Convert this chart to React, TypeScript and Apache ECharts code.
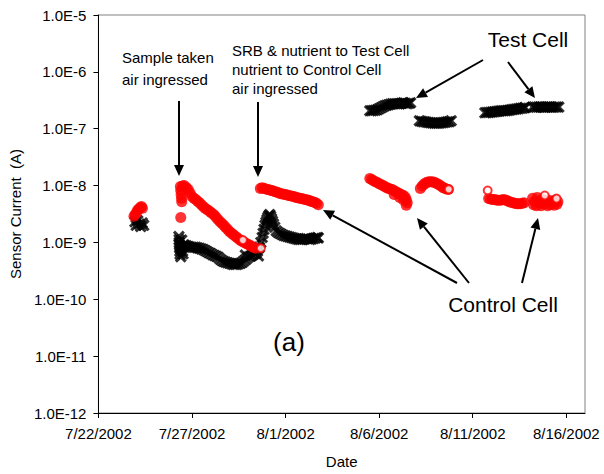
import React, { useEffect, useRef } from "react";
import * as echarts from "echarts";

// x values are days since 7/22/2002
const START_UTC = Date.UTC(2002, 6, 22);
const xTickDays = [0, 5, 10, 15, 20, 25];
const yTickValues = [1e-12, 1e-11, 1e-10, 1e-9, 1e-8, 1e-7, 1e-6, 1e-5];

// Control Cell (red)
const control1 = [[1.9, 2.9e-9], [1.97, 3.1e-9], [2.04, 3.4e-9], [2.1, 3.7e-9], [2.17, 3.9e-9], [2.24, 4.1e-9], [2.3, 4.3e-9], [2.35, 4.0e-9]];
const control2 = [
  [4.38, 9.6e-9], [4.4, 8.2e-9], [4.42, 7.0e-9], [4.44, 6.0e-9], [4.45, 5.2e-9], [4.5, 9.8e-9], [4.58, 1.0e-8], [4.4, 2.75e-9],
  [4.7, 9.2e-9], [4.8, 8.5e-9], [4.9, 7.4e-9], [5.0, 6.4e-9], [5.1, 6.0e-9], [5.2, 5.7e-9], [5.3, 5.3e-9], [5.4, 5.0e-9],
  [5.5, 4.6e-9], [5.6, 4.3e-9], [5.7, 4.0e-9], [5.8, 3.8e-9], [5.9, 3.6e-9], [6.0, 3.4e-9], [6.1, 3.2e-9], [6.2, 3.0e-9],
  [6.3, 2.75e-9], [6.4, 2.5e-9], [6.5, 2.3e-9], [6.6, 2.15e-9], [6.7, 2.0e-9], [6.8, 1.83e-9], [6.9, 1.7e-9], [7.0, 1.56e-9],
  [7.1, 1.47e-9], [7.2, 1.38e-9], [7.3, 1.3e-9], [7.4, 1.22e-9], [7.5, 1.15e-9], [7.6, 1.08e-9], [7.7, 1.04e-9], [7.8, 1.0e-9],
  [7.9, 9.6e-10], [8.0, 9.2e-10], [8.1, 8.9e-10], [8.2, 8.5e-10], [8.3, 8.2e-10], [8.4, 7.9e-10],
];
const control3 = [
  [8.65, 8.9e-9], [8.75, 9.2e-9], [8.85, 8.9e-9], [8.95, 8.7e-9], [9.05, 8.5e-9], [9.15, 8.4e-9], [9.25, 8.2e-9], [9.35, 8.0e-9],
  [9.45, 7.8e-9], [9.55, 7.6e-9], [9.65, 7.4e-9], [9.75, 7.2e-9], [9.85, 7.1e-9], [9.95, 7.0e-9], [10.05, 6.9e-9], [10.15, 6.7e-9],
  [10.25, 6.6e-9], [10.35, 6.5e-9], [10.45, 6.4e-9], [10.55, 6.2e-9], [10.65, 6.1e-9], [10.75, 6.0e-9], [10.85, 5.9e-9],
  [10.95, 5.8e-9], [11.05, 5.7e-9], [11.15, 5.6e-9], [11.25, 5.5e-9], [11.35, 5.3e-9], [11.45, 5.2e-9], [11.55, 5.1e-9],
  [11.65, 4.9e-9], [11.75, 4.6e-9],
];
const control4 = [
  [14.5, 1.33e-8], [14.6, 1.28e-8], [14.7, 1.22e-8], [14.8, 1.17e-8], [14.9, 1.13e-8], [15.0, 1.08e-8], [15.1, 1.04e-8],
  [15.2, 1.0e-8], [15.3, 9.6e-9], [15.4, 9.2e-9], [15.5, 8.9e-9], [15.6, 8.7e-9], [15.7, 8.5e-9], [15.8, 8.1e-9], [15.9, 7.8e-9],
  [16.0, 7.5e-9], [16.1, 7.2e-9], [16.2, 6.9e-9], [16.3, 6.7e-9], [16.4, 6.2e-9], [16.45, 5.6e-9], [16.5, 5.0e-9],
  [16.45, 4.5e-9], [16.3, 5.6e-9], [16.1, 6.2e-9], [15.8, 7.0e-9],
];
const control5 = [
  [17.2, 8.9e-9], [17.3, 9.8e-9], [17.4, 1.06e-8], [17.5, 1.12e-8], [17.6, 1.15e-8], [17.7, 1.17e-8], [17.8, 1.17e-8],
  [17.9, 1.15e-8], [18.0, 1.12e-8], [18.1, 1.08e-8], [18.2, 1.03e-8], [18.3, 9.8e-9], [18.4, 9.3e-9], [18.5, 9.0e-9],
  [18.6, 8.7e-9], [18.7, 8.5e-9],
];
const control6 = [
  [20.85, 5.9e-9], [20.95, 5.8e-9], [21.05, 5.7e-9], [21.15, 5.7e-9], [21.25, 5.6e-9], [21.35, 5.5e-9], [21.45, 5.5e-9],
  [21.55, 5.6e-9], [21.65, 5.7e-9], [21.75, 5.6e-9], [21.85, 5.4e-9], [21.95, 5.2e-9], [22.05, 5.1e-9], [22.15, 5.0e-9],
  [22.25, 4.9e-9], [22.35, 4.8e-9], [22.45, 4.8e-9], [22.55, 4.8e-9], [22.65, 4.9e-9], [22.75, 5.0e-9],
];
const control7 = [
  [23.2, 6.0e-9], [23.25, 4.6e-9], [23.3, 5.3e-9], [23.4, 4.4e-9], [23.45, 6.2e-9], [23.55, 5.0e-9], [23.65, 4.4e-9],
  [23.7, 5.8e-9], [23.8, 4.7e-9], [23.9, 5.4e-9], [24.0, 4.4e-9], [24.05, 5.6e-9], [24.15, 4.6e-9], [24.25, 5.2e-9],
  [24.35, 4.5e-9], [24.4, 5.6e-9], [24.5, 4.7e-9], [24.55, 5.2e-9],
];
const controlOutliers = [[7.72, 1.1e-9], [8.68, 7.9e-10], [18.72, 8.6e-9], [20.8, 8.2e-9], [23.85, 6.7e-9], [24.48, 5.9e-9]];

// Test Cell (black)
const test1 = [[1.95, 2.3e-9], [2.02, 2.0e-9], [2.1, 2.4e-9], [2.18, 2.1e-9], [2.26, 1.9e-9], [2.34, 2.2e-9], [2.42, 2.0e-9]];
const test2 = [
  [4.3, 1.27e-9], [4.31, 1.12e-9], [4.32, 1.0e-9], [4.33, 9.0e-10], [4.34, 8.0e-10], [4.35, 7.0e-10], [4.36, 6.2e-10],
  [4.4, 5.6e-10], [4.45, 1.1e-9], [4.48, 8.5e-10], [4.5, 7.0e-10], [4.52, 6.3e-10], [4.55, 9.0e-10],
  [4.6, 8.9e-10], [4.7, 8.7e-10], [4.8, 8.5e-10], [4.9, 8.3e-10], [5.0, 8.2e-10], [5.1, 8.2e-10], [5.2, 8.2e-10], [5.3, 8.0e-10],
  [5.4, 7.9e-10], [5.5, 7.7e-10], [5.6, 7.5e-10], [5.7, 7.2e-10], [5.8, 6.9e-10], [5.9, 6.6e-10], [6.0, 6.4e-10], [6.1, 6.1e-10],
  [6.2, 5.9e-10], [6.3, 5.7e-10], [6.4, 5.5e-10], [6.5, 5.1e-10], [6.6, 4.8e-10], [6.7, 4.6e-10], [6.8, 4.5e-10], [6.9, 4.4e-10],
  [7.0, 4.3e-10], [7.1, 4.2e-10], [7.2, 4.1e-10], [7.3, 4.1e-10], [7.4, 4.1e-10], [7.5, 4.2e-10], [7.6, 4.3e-10], [7.7, 4.5e-10],
  [7.8, 4.8e-10], [7.85, 6.0e-10], [7.9, 5.1e-10], [8.0, 5.5e-10], [8.1, 5.7e-10], [8.2, 5.9e-10], [8.3, 6.2e-10], [8.4, 6.4e-10],
  [8.5, 7.0e-10], [8.55, 5.8e-10],
  [8.6, 8.2e-10], [8.68, 1.0e-9], [8.75, 1.22e-9], [8.8, 1.45e-9], [8.85, 1.7e-9], [8.9, 2.0e-9], [8.95, 2.25e-9], [9.0, 2.5e-9],
  [9.05, 2.75e-9], [9.1, 2.95e-9], [9.15, 3.1e-9], [9.2, 2.9e-9], [9.25, 2.6e-9], [9.3, 2.35e-9], [9.35, 2.1e-9], [9.42, 1.85e-9],
  [9.5, 1.6e-9], [9.6, 1.5e-9], [9.7, 1.44e-9], [9.8, 1.38e-9], [9.9, 1.33e-9], [10.0, 1.3e-9], [10.1, 1.27e-9], [10.2, 1.25e-9],
  [10.3, 1.22e-9], [10.4, 1.2e-9], [10.5, 1.17e-9], [10.6, 1.15e-9], [10.7, 1.13e-9], [10.8, 1.13e-9], [10.9, 1.13e-9],
  [11.0, 1.15e-9], [11.1, 1.17e-9], [11.2, 1.15e-9], [11.3, 1.13e-9], [11.4, 1.15e-9], [11.5, 1.17e-9], [11.6, 1.2e-9],
  [11.7, 1.22e-9], [11.75, 1.2e-9],
];
const test3 = [
  [14.5, 2.07e-7], [14.6, 2.07e-7], [14.7, 2.1e-7], [14.8, 2.12e-7], [14.9, 2.15e-7], [15.0, 2.25e-7], [15.1, 2.33e-7],
  [15.2, 2.43e-7], [15.3, 2.53e-7], [15.4, 2.58e-7], [15.5, 2.63e-7], [15.6, 2.7e-7], [15.7, 2.75e-7], [15.8, 2.75e-7],
  [15.9, 2.75e-7], [16.0, 2.75e-7], [16.1, 2.75e-7], [16.2, 2.8e-7], [16.3, 2.86e-7], [16.4, 2.8e-7], [16.5, 2.75e-7],
  [16.6, 2.8e-7], [16.68, 2.86e-7],
];
const test4 = [
  [17.15, 1.38e-7], [17.25, 1.35e-7], [17.35, 1.33e-7], [17.45, 1.32e-7], [17.55, 1.3e-7], [17.65, 1.28e-7], [17.75, 1.27e-7],
  [17.85, 1.26e-7], [17.95, 1.25e-7], [18.05, 1.25e-7], [18.15, 1.25e-7], [18.25, 1.26e-7], [18.35, 1.27e-7], [18.45, 1.28e-7],
  [18.55, 1.3e-7], [18.65, 1.32e-7], [18.75, 1.33e-7], [18.85, 1.38e-7],
];
const test5 = [
  [20.65, 1.9e-7], [20.75, 1.92e-7], [20.85, 1.93e-7], [20.95, 1.95e-7], [21.05, 1.97e-7], [21.15, 1.98e-7], [21.25, 2.0e-7],
  [21.35, 2.02e-7], [21.45, 2.05e-7], [21.55, 2.06e-7], [21.65, 2.07e-7], [21.75, 2.08e-7], [21.85, 2.1e-7], [21.95, 2.12e-7],
  [22.05, 2.15e-7], [22.15, 2.18e-7], [22.25, 2.2e-7], [22.35, 2.22e-7], [22.45, 2.25e-7], [22.55, 2.28e-7], [22.65, 2.3e-7],
  [22.75, 2.33e-7], [22.8, 2.35e-7],
];
const test6 = [
  [23.2, 2.4e-7], [23.3, 2.4e-7], [23.4, 2.38e-7], [23.5, 2.4e-7], [23.6, 2.42e-7], [23.7, 2.4e-7], [23.8, 2.38e-7],
  [23.9, 2.4e-7], [24.0, 2.4e-7], [24.1, 2.42e-7], [24.2, 2.4e-7], [24.3, 2.38e-7], [24.4, 2.4e-7], [24.5, 2.4e-7], [24.6, 2.4e-7],
];

const controlData = [...control1, ...control2, ...control3, ...control4, ...control5, ...control6, ...control7];
const testData = [...test1, ...test2, ...test3, ...test4, ...test5, ...test6];

const FONT = "'Liberation Sans', Arial, sans-serif";
const X_SYMBOL = "path://M0,1.8L1.8,0L5,3.2L8.2,0L10,1.8L6.8,5L10,8.2L8.2,10L5,6.8L1.8,10L0,8.2L3.2,5Z";

function fmtDate(v: number) {
  const d = new Date(START_UTC + Math.round(v) * 86400000);
  return `${d.getUTCMonth() + 1}/${d.getUTCDate()}/${d.getUTCFullYear()}`;
}

function arrow(x1: number, y1: number, x2: number, y2: number) {
  const dx = x2 - x1, dy = y2 - y1;
  const len = Math.sqrt(dx * dx + dy * dy);
  const ux = dx / len, uy = dy / len;
  const hl = 11, hw = 5;
  const bx = x2 - ux * hl, by = y2 - uy * hl;
  const nx = -uy, ny = ux;
  return [
    { type: "line", shape: { x1, y1, x2: bx, y2: by }, style: { stroke: "#000", lineWidth: 2 }, silent: true },
    {
      type: "polygon",
      shape: { points: [[x2, y2], [bx + nx * hw, by + ny * hw], [bx - nx * hw, by - ny * hw]] },
      style: { fill: "#000" },
      silent: true,
    },
  ];
}

function label(text: string, x: number, y: number, size: number, align = "left", lineHeight?: number) {
  return {
    type: "text",
    x,
    y,
    style: {
      text,
      fill: "#000",
      fontSize: size,
      fontFamily: FONT,
      align,
      verticalAlign: "top",
      lineHeight: lineHeight || Math.round(size * 1.2),
    },
    silent: true,
  };
}

export default function App() {
  const ref = useRef<HTMLDivElement>(null);
  useEffect(() => {
    if (!ref.current) return;
    const chart = echarts.init(ref.current, undefined, { renderer: "svg" });
    chart.setOption({
      animation: false,
      backgroundColor: "#fff",
      textStyle: { fontFamily: FONT },
      grid: { left: 95, right: 19, top: 15, bottom: 60, show: true, borderColor: "#808080", borderWidth: 1, backgroundColor: "transparent" },
      xAxis: {
        type: "value",
        min: 0,
        max: 26,
        interval: 5,
        name: "Date",
        nameLocation: "middle",
        nameGap: 41,
        nameTextStyle: { color: "#000", fontSize: 15, fontFamily: FONT },
        axisLine: { onZero: false, lineStyle: { color: "#000", width: 1 } },
        axisTick: { show: true, length: 5, inside: false, lineStyle: { color: "#000" }, customValues: xTickDays },
        axisLabel: { color: "#000", fontSize: 15, fontFamily: FONT, margin: 13, formatter: (v: number) => fmtDate(v), customValues: xTickDays },
        splitLine: { show: false },
      },
      yAxis: {
        type: "log",
        logBase: 10,
        min: 1e-12,
        max: 1e-5,
        splitNumber: 7,
        name: "Sensor Current  (A)",
        nameLocation: "middle",
        nameGap: 64,
        nameTextStyle: { color: "#000", fontSize: 15, fontFamily: FONT },
        axisLine: { show: true, lineStyle: { color: "#000", width: 1 } },
        axisTick: { show: true, length: 5, inside: false, lineStyle: { color: "#000" }, customValues: yTickValues },
        axisLabel: {
          color: "#000",
          fontSize: 15,
          fontFamily: FONT,
          margin: 12,
          customValues: yTickValues,
          formatter: (v: number) => "1.0E" + Math.round(Math.log10(v)),
        },
        splitLine: { show: false },
      },
      series: [
        {
          name: "Test Cell",
          type: "scatter",
          data: testData,
          symbol: X_SYMBOL,
          symbolSize: 12,
          itemStyle: { color: "#000" },
          z: 2,
        },
        {
          name: "Control Cell",
          type: "scatter",
          data: controlData,
          symbol: "circle",
          symbolSize: 11,
          itemStyle: { color: "#ff0000" },
          z: 3,
        },
        {
          name: "Control Cell (outliers)",
          type: "scatter",
          data: controlOutliers,
          symbol: "emptyCircle",
          symbolSize: 8,
          itemStyle: { color: "#ff0000", borderColor: "#ff0000", borderWidth: 1.5 },
          z: 4,
        },
      ],
      graphic: [
        label("Sample taken\nair ingressed", 122, 46, 15, "left", 22),
        label("SRB & nutrient to Test Cell\nnutrient to Control Cell\nair ingressed", 232, 41, 15, "left", 19),
        label("Test Cell", 528, 27, 21, "center"),
        label("Control Cell", 503, 292, 21, "center"),
        label("(a)", 289, 326, 26, "center"),
        ...arrow(179, 101, 179, 176),
        ...arrow(258, 102, 258, 177),
        ...arrow(483, 60, 416, 98),
        ...arrow(508, 62, 535, 98),
        ...arrow(457, 283, 323, 210),
        ...arrow(469, 283, 417, 218),
        ...arrow(522, 283, 538, 218),
      ],
    });
    return () => chart.dispose();
  }, []);
  return <div ref={ref} style={{ position: "fixed", left: 0, top: 0, width: 604, height: 474 }} />;
}
